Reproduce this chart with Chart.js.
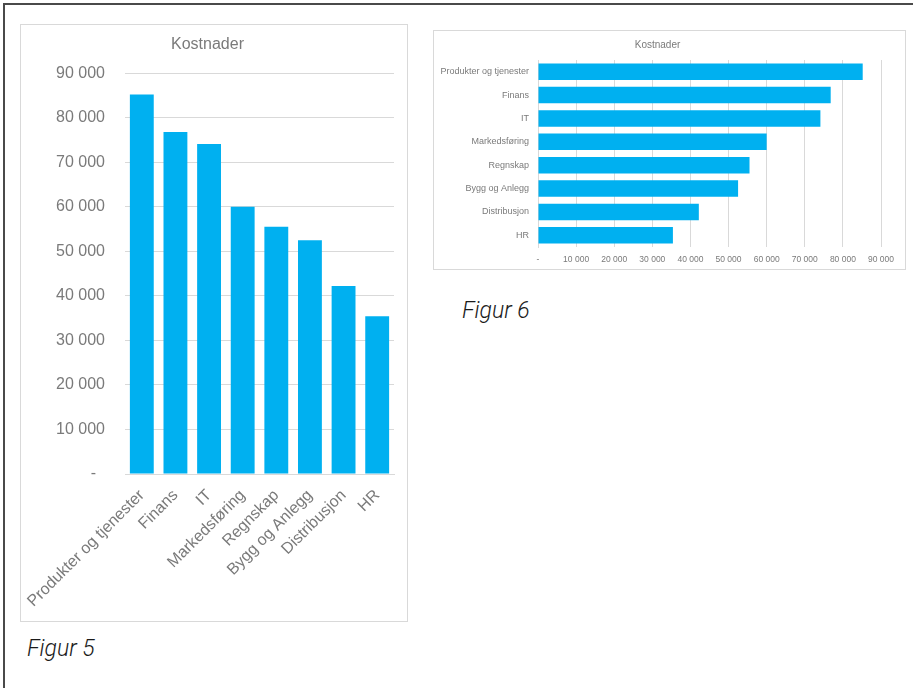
<!DOCTYPE html>
<html>
<head>
<meta charset="utf-8">
<script src="https://cdn.jsdelivr.net/npm/chart.js@4/dist/chart.umd.min.js"></script>
<style>
  html, body { margin: 0; padding: 0; background: #fff; }
  body { width: 913px; height: 688px; position: relative; overflow: hidden; }
  .frame { position: absolute; left: 3px; top: 3px; width: 920px; height: 700px;
           border-top: 2px solid #4a4a4a; border-left: 2px solid #4a4a4a; }
  .box { position: absolute; border: 1px solid #d9d9d9; background: #fff; }
  .cap { position: absolute; font-family: Roboto, "Open Sans", sans-serif; font-style: italic; font-weight: 300;
         font-size: 23px; color: #1a1a1a; line-height: 1; }
  canvas { position: absolute; }
</style>
</head>
<body>
<div class="frame"></div>
<div class="box" style="left:20px; top:24px; width:386px; height:596px;"></div>
<div class="box" style="left:433px; top:30px; width:471px; height:238px;"></div>
<canvas id="c1" width="386" height="596" style="left:21px; top:25px;"></canvas>
<canvas id="c2" width="471" height="238" style="left:434px; top:31px;"></canvas>
<div class="cap" style="left:27px; top:637px;">Figur 5</div>
<div class="cap" style="left:462px; top:299px;">Figur 6</div>
<script>
const categories = ["Produkter og tjenester", "Finans", "IT", "Markedsføring", "Regnskap", "Bygg og Anlegg", "Distribusjon", "HR"];
const kostnader = [85200, 76800, 74100, 60000, 55500, 52500, 42200, 35400];
const chartTitle = "Kostnader";
const figureCaptions = ["Figur 5", "Figur 6"];

const BAR = "#00b0f0";
const GRID = "#d9d9d9";
const TXT = "#7a7a7a";
const FONT = "'Liberation Sans', Arial, sans-serif";

function fmt(v, zeroLabel) {
  if (v === 0) return zeroLabel;
  return String(Math.round(v)).replace(/\B(?=(\d{3})+(?!\d))/g, " ");
}

Chart.defaults.font.family = FONT;
Chart.defaults.color = TXT;

new Chart(document.getElementById("c1"), {
  type: "bar",
  data: { labels: categories, datasets: [{ label: chartTitle, data: kostnader, backgroundColor: BAR,
          barPercentage: 0.71, categoryPercentage: 1.0 }] },
  options: {
    responsive: false, animation: false, devicePixelRatio: 1,
    layout: { padding: { left: 0, right: 13, top: 0, bottom: 0 } },
    plugins: {
      legend: { display: false }, tooltip: { enabled: false },
      title: { display: true, text: chartTitle, color: TXT, font: { size: 16, weight: "normal", family: FONT },
               padding: { top: 10, bottom: 19 } }
    },
    scales: {
      x: {
        grid: { display: false, drawTicks: false },
        border: { display: true, color: GRID, width: 1 },
        ticks: { color: TXT, font: { size: 16, family: FONT }, minRotation: 45, maxRotation: 45, padding: 12, autoSkip: false },
        afterFit: s => { s.height = 147; s.paddingLeft = 0; s.paddingRight = 0; }
      },
      y: {
        min: 0, max: 90000,
        grid: { color: GRID, drawTicks: false },
        border: { display: false },
        ticks: { stepSize: 10000, color: TXT, font: { size: 16, family: FONT }, padding: 20,
                 callback: v => fmt(v, "-  ") },
        afterFit: s => { s.width = 104; }
      }
    }
  }
});

new Chart(document.getElementById("c2"), {
  type: "bar",
  data: { labels: categories, datasets: [{ label: chartTitle, data: kostnader, backgroundColor: BAR,
          barPercentage: 0.71, categoryPercentage: 1.0 }] },
  options: {
    indexAxis: "y",
    responsive: false, animation: false, devicePixelRatio: 1,
    layout: { padding: { left: 0, right: 24, top: 0, bottom: 0 } },
    plugins: {
      legend: { display: false }, tooltip: { enabled: false },
      title: { display: true, text: chartTitle, color: TXT, font: { size: 10, weight: "normal", family: FONT },
               padding: { top: 8, bottom: 9 } }
    },
    scales: {
      y: {
        grid: { display: false, drawTicks: false },
        border: { display: true, color: GRID, width: 1 },
        ticks: { color: TXT, font: { size: 9, family: FONT }, padding: 9, autoSkip: false },
        afterFit: s => { s.width = 104; }
      },
      x: {
        min: 0, max: 90000,
        grid: { color: GRID, drawTicks: false },
        border: { display: false },
        ticks: { stepSize: 10000, color: TXT, font: { size: 8.5, family: FONT }, padding: 8,
                 callback: v => fmt(v, "-") },
        afterFit: s => { s.height = 22; }
      }
    }
  }
});
</script>
</body>
</html>
